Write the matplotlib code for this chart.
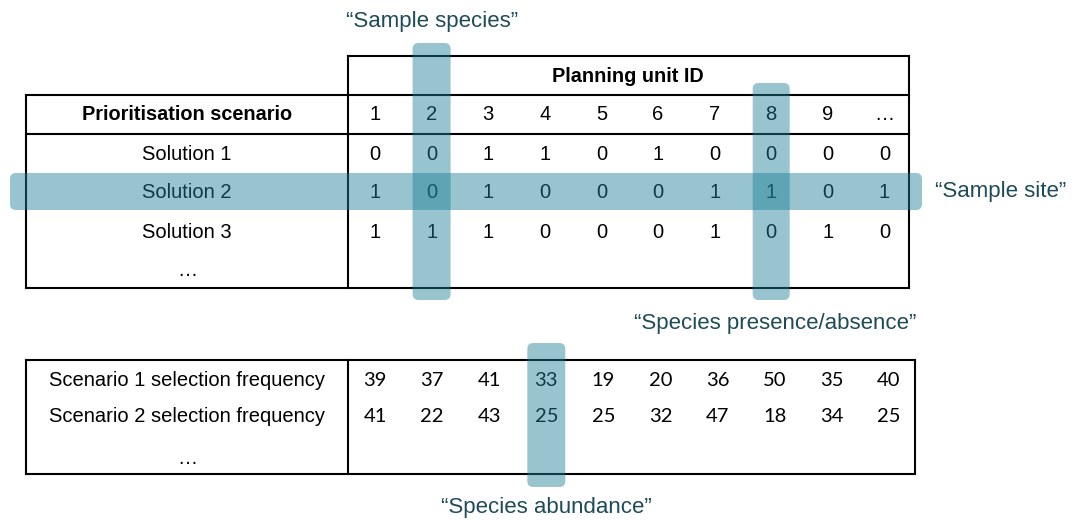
import matplotlib.pyplot as plt
from matplotlib.patches import FancyBboxPatch

# table contents
unit_ids = ['1', '2', '3', '4', '5', '6', '7', '8', '9', '…']
solution_labels = ['Solution 1', 'Solution 2', 'Solution 3', '…']
solutions = [[0, 0, 1, 1, 0, 1, 0, 0, 0, 0],
             [1, 0, 1, 0, 0, 0, 1, 1, 0, 1],
             [1, 1, 1, 0, 0, 0, 1, 0, 1, 0]]
scenario_labels = ['Scenario 1 selection frequency', 'Scenario 2 selection frequency', '…']
frequencies = [[39, 37, 41, 33, 19, 20, 36, 50, 35, 40],
               [41, 22, 43, 25, 25, 32, 47, 18, 34, 25]]
annotations = ['“Sample species”', '“Sample site”', '“Species presence/absence”', '“Species abundance”']

plt.rcParams['font.family'] = ['Liberation Sans', 'DejaVu Sans']

HL_COLOR = (29 / 255, 127 / 255, 151 / 255)
HL_ALPHA = 0.46
NOTE_COLOR = '#1d4b58'
LW = 1.5

fig = plt.figure(figsize=(10.8, 5.2), dpi=100)
ax = fig.add_axes([0, 0, 1, 1])
ax.set_xlim(0, 1080)
ax.set_ylim(520, 0)
ax.axis('off')


def hline(x0, x1, y):
    ax.plot([x0, x1], [y, y], color='black', lw=LW, solid_capstyle='projecting')


def vline(x, y0, y1):
    ax.plot([x, x], [y0, y1], color='black', lw=LW, solid_capstyle='projecting')


def highlight(x0, x1, y0, y1):
    ax.add_patch(FancyBboxPatch((x0, y0), x1 - x0, y1 - y0,
                                boxstyle='round,pad=0,rounding_size=6',
                                facecolor=HL_COLOR, alpha=HL_ALPHA,
                                edgecolor='none', zorder=5))


# ---- top table ----
left, mid, right = 26, 348, 909
top_y, head_y, body_y, bot_y = 56, 95, 134, 288
hline(mid, right, top_y)
hline(left, right, head_y)
hline(left, right, body_y)
hline(left, right, bot_y)
vline(left, head_y, bot_y)
vline(mid, top_y, bot_y)
vline(right, top_y, bot_y)

fs = 14.5
ax.text(628, 76, 'Planning unit ID', ha='center', va='center', fontsize=14.3, fontweight='bold')
ax.text(187, 115, 'Prioritisation scenario', ha='center', va='center', fontsize=14.3, fontweight='bold')

top_x0, top_dx = 375, 56.6
col_x = [top_x0 + i * top_dx for i in range(len(unit_ids))]
for x, uid in zip(col_x, unit_ids):
    ax.text(x, 115, uid, ha='center', va='center', fontsize=fs)

row_y = [155, 193, 232, 270]
for y, lbl in zip(row_y, solution_labels):
    ax.text(187, y, lbl, ha='center', va='center', fontsize=fs)
for y, row in zip(row_y, solutions):
    for x, v in zip(col_x, row):
        ax.text(x, y, str(v), ha='center', va='center', fontsize=fs)

# highlights: species column 2, unit 8, site row Solution 2
highlight(col_x[1] - 19, col_x[1] + 19, 43, 300)
highlight(col_x[7] - 18.5, col_x[7] + 18.5, 83, 300)
highlight(10, 922, 173, 210)

# ---- bottom table ----
b_left, b_mid, b_right = 26, 348, 915
b_top, b_bot = 360, 474
hline(b_left, b_right, b_top)
hline(b_left, b_right, b_bot)
vline(b_left, b_top, b_bot)
vline(b_mid, b_top, b_bot)
vline(b_right, b_top, b_bot)

bot_x0, bot_dx = 375, 57.1
bcol_x = [bot_x0 + i * bot_dx for i in range(len(frequencies[0]))]
brow_y = [380, 417, 458]
for y, lbl in zip(brow_y, scenario_labels):
    ax.text(187, y, lbl, ha='center', va='center', fontsize=fs)
for y, row in zip(brow_y, frequencies):
    for x, v in zip(bcol_x, row):
        ax.text(x, y, str(v), ha='center', va='center', fontsize=fs, family='Lato')

highlight(bcol_x[3] - 19, bcol_x[3] + 19, 343, 487)

# ---- annotation labels ----
ax.text(col_x[1], 22, annotations[0], ha='center', va='center', fontsize=16, color=NOTE_COLOR)
ax.text(935, 192, annotations[1], ha='left', va='center', fontsize=16, color=NOTE_COLOR)
ax.text(775, 323, annotations[2], ha='center', va='center', fontsize=16, color=NOTE_COLOR)
ax.text(bcol_x[3], 508, annotations[3], ha='center', va='center', fontsize=16, color=NOTE_COLOR)

plt.savefig('out.png', dpi=100)
